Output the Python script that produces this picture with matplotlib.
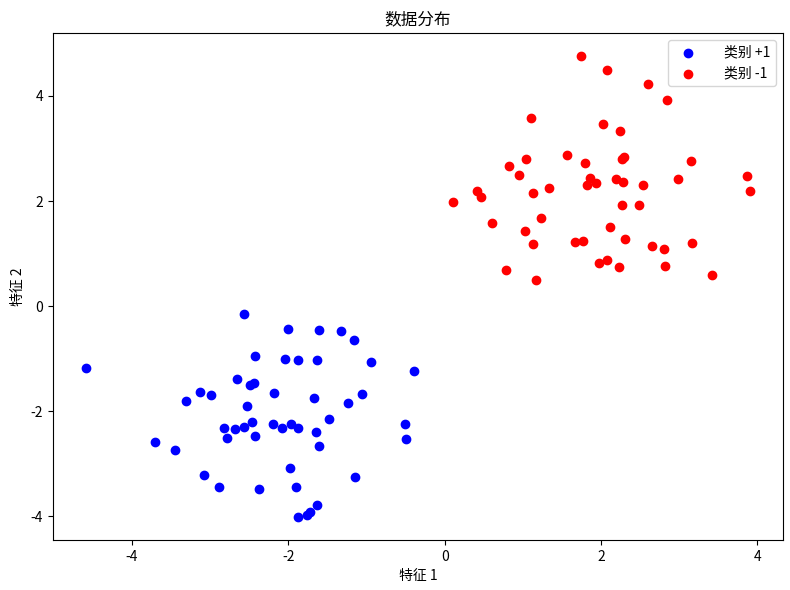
import numpy as np
import matplotlib
matplotlib.use('Agg')
import matplotlib.pyplot as plt

plt.rcParams['font.family'] = ['Noto Sans CJK SC', 'DejaVu Sans']
plt.rcParams['axes.unicode_minus'] = False

# 类别 +1
pos_x = [-4.586, -2.573, -2.009, -1.612, -1.329, -1.163, -2.432, -2.047, -1.881, -1.632,
         -0.945, -0.394, -2.650, -2.496, -2.442, -2.188, -3.124, -2.983, -3.304, -1.676,
         -1.060, -1.240, -2.522, -1.483, -2.458, -2.201, -2.571, -2.679, -2.821, -2.086,
         -1.971, -1.881, -1.650, -2.778, -2.432, -1.612, -0.513, -0.500, -3.701, -3.445,
         -1.983, -1.150, -3.073, -2.881, -2.372, -1.906, -1.637, -1.727, -1.765, -1.881]
pos_y = [-1.181, -0.157, -0.442, -0.461, -0.480, -0.650, -0.954, -1.010, -1.029, -1.029,
         -1.067, -1.238, -1.390, -1.503, -1.460, -1.655, -1.630, -1.693, -1.801, -1.750,
         -1.674, -1.845, -1.901, -2.148, -2.205, -2.243, -2.300, -2.337, -2.318, -2.318,
         -2.243, -2.318, -2.394, -2.502, -2.464, -2.660, -2.243, -2.527, -2.584, -2.736,
         -3.077, -3.247, -3.209, -3.437, -3.475, -3.437, -3.778, -3.911, -3.968, -4.006]

# 类别 -1
neg_x = [1.747, 2.077, 2.606, 2.837, 1.103, 2.026, 2.247, 1.568, 1.042, 1.799,
         0.824, 0.953, 1.863, 1.821, 1.940, 2.265, 2.299, 3.154, 2.188, 2.278,
         2.538, 2.978, 3.868, 3.901, 0.410, 0.465, 0.106, 1.132, 1.337, 2.273,
         2.491, 0.606, 1.235, 1.029, 1.132, 1.667, 1.773, 2.115, 2.312, 2.645,
         2.808, 3.167, 1.974, 2.081, 2.235, 2.821, 0.786, 1.171, 3.414]
neg_y = [4.758, 4.487, 4.222, 3.918, 3.577, 3.469, 3.331, 2.876, 2.806, 2.730,
         2.667, 2.489, 2.440, 2.313, 2.345, 2.792, 2.838, 2.762, 2.413, 2.364,
         2.307, 2.427, 2.483, 2.193, 2.193, 2.080, 1.985, 2.155, 2.256, 1.934,
         1.934, 1.592, 1.687, 1.435, 1.189, 1.213, 1.245, 1.511, 1.283, 1.151,
         1.086, 1.194, 0.828, 0.872, 0.753, 0.772, 0.682, 0.493, 0.601]

fig = plt.figure(figsize=(7.9, 5.9), dpi=100)
plt.scatter(pos_x, pos_y, c='b', label='类别 +1')
plt.scatter(neg_x, neg_y, c='r', label='类别 -1')
plt.xlabel('特征 1')
plt.ylabel('特征 2')
plt.title('数据分布')
plt.legend(handletextpad=1.6)
plt.subplots_adjust(left=0.067, right=0.991, top=0.944, bottom=0.085)
fig.savefig('out.png')
